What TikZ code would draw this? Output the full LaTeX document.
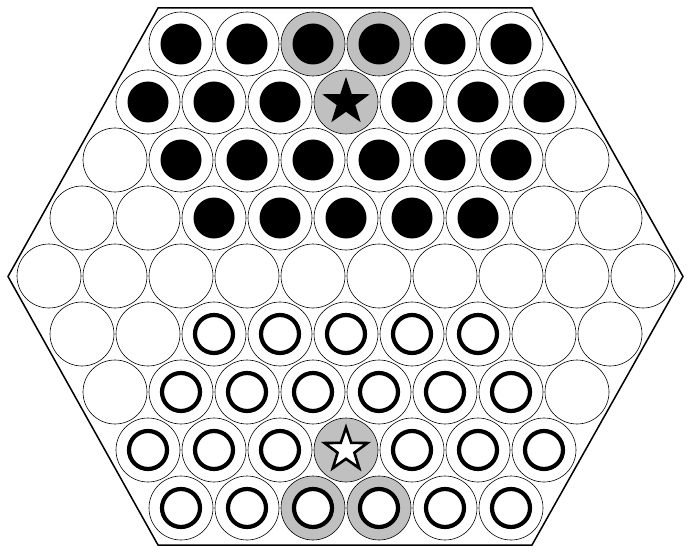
\documentclass[tikz,border=0pt]{standalone}
\usetikzlibrary{shapes.geometric}
\definecolor{hlgray}{RGB}{192,192,192}
\begin{document}
\begin{tikzpicture}[x=1pt,y=-1pt,
  cell/.style={circle,draw=black,line width=0.6pt,minimum size=64pt,inner sep=0pt},
  hl/.style={fill=hlgray},
  blackpc/.style={circle,fill=black,minimum size=41pt,inner sep=0pt},
  whitepc/.style={circle,draw=black,fill=white,line width=4.2pt,minimum size=38pt,inner sep=0pt},
  bstar/.style={star,star points=5,star point ratio=2.55,minimum size=50pt,inner sep=0pt,fill=black},
  wstar/.style={star,star points=5,star point ratio=2.55,minimum size=45pt,inner sep=0pt,fill=white,draw=black,line width=2.6pt,line join=miter}]
\useasboundingbox (0,0) rectangle (691,559);
\fill[white] (0,0) rectangle (691,559);
\draw[line width=1.5pt,line join=miter] (158,8) -- (532,8) -- (683,276.5) -- (532,545) -- (158,545) -- (8,276.5) -- cycle;
\foreach \r in {0,...,8}{
  \pgfmathtruncatemacro{\n}{10-abs(\r-4)}
  \pgfmathtruncatemacro{\last}{\n-1}
  \foreach \i in {0,...,\last}{
    \pgfmathsetmacro{\cx}{346+(\i-(\n-1)/2)*66}
    \pgfmathsetmacro{\cy}{44+\r*58}
    % highlight
    \pgfmathtruncatemacro{\ishl}{(\r==0 && (\i==2 || \i==3)) || (\r==8 && (\i==2 || \i==3)) || ((\r==1 || \r==7) && \i==3)}
    \ifnum\ishl=1
      \node[cell,hl] (c-\r-\i) at (\cx,\cy) {};
    \else
      \node[cell] (c-\r-\i) at (\cx,\cy) {};
    \fi
    % pieces
    \pgfmathtruncatemacro{\isblack}{\r==0 || (\r==1 && \i!=3) || (\r==2 && \i>=1 && \i<=6) || (\r==3 && \i>=2 && \i<=6)}
    \pgfmathtruncatemacro{\iswhite}{\r==8 || (\r==7 && \i!=3) || (\r==6 && \i>=1 && \i<=6) || (\r==5 && \i>=2 && \i<=6)}
    \ifnum\isblack=1 \node[blackpc] (p-\r-\i) at (c-\r-\i) {}; \fi
    \ifnum\iswhite=1 \node[whitepc] (p-\r-\i) at (c-\r-\i) {}; \fi
  }
}
\node[bstar] (s-black) at (c-1-3) {};
\node[wstar] (s-white) at (c-7-3) {};
\end{tikzpicture}
\end{document}
